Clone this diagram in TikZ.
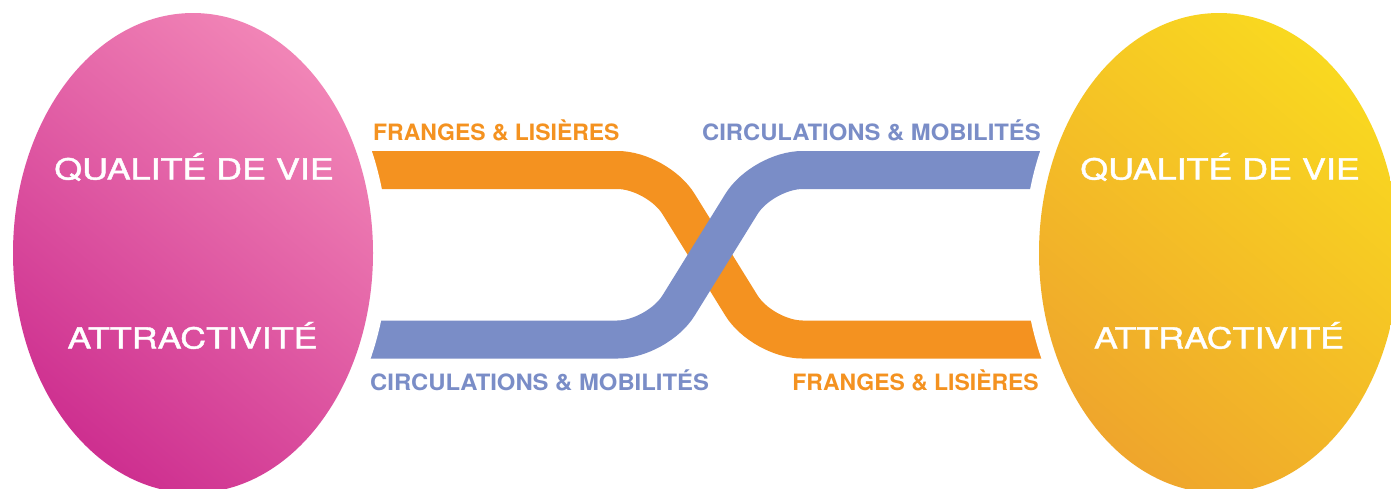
\documentclass[tikz,border=0pt]{standalone}
\usepackage{fontspec}
\setmainfont{TeX Gyre Heros}
\newfontfamily\ovalfont[FakeBold=1.3]{TeX Gyre Heros}
\begin{document}
\begin{tikzpicture}[x=1pt,y=-1pt,
  band/.style={line width=38pt,rounded corners=40pt},
  gapring/.style={draw=white,fill=white,line width=30pt},
  bigtxt/.style={text=white,font=\ovalfont\fontsize{29}{29}\selectfont,xscale=1.235,transform shape,anchor=base,inner sep=0pt},
  lbl/.style={font=\fontsize{22.5}{22.5}\selectfont\bfseries,transform shape,inner sep=0pt},
  franges/.style={lbl,text=orng,xscale=1.02},
  circ/.style={lbl,text=blu,xscale=1.06}]
\definecolor{orng}{RGB}{244,146,32}
\definecolor{blu}{RGB}{122,141,199}
\definecolor{pinkL}{RGB}{241,132,182}
\definecolor{pinkD}{RGB}{206,48,144}
\definecolor{yelL}{RGB}{249,216,32}
\definecolor{yelD}{RGB}{239,166,44}
\useasboundingbox (0,0) rectangle (1391,488);
\fill[white] (0,0) rectangle (1391,488);

% crossing bands
\coordinate (oA) at (340,170);
\coordinate (oB) at (657.5,170);
\coordinate (oC) at (762.5,339.5);
\coordinate (oD) at (1060,339.5);
\coordinate (bA) at (340,339.5);
\coordinate (bB) at (657.5,339.5);
\coordinate (bC) at (762.5,170);
\coordinate (bD) at (1060,170);
\draw[band,orng] (oA) -- (oB) -- (oC) -- (oD);
\draw[band,blu] (bA) -- (bB) -- (bC) -- (bD);

% left oval
\path[gapring] (193,253) ellipse [x radius=180,y radius=240];
\shade[top color=pinkL,bottom color=pinkD,shading angle=-40]
  (193,253) ellipse [x radius=180,y radius=240];
% right oval
\path[gapring] (1219,253) ellipse [x radius=180,y radius=240];
\shade[top color=yelL,bottom color=yelD,shading angle=-40]
  (1219,253) ellipse [x radius=180,y radius=240];

% oval texts
\node[bigtxt] (lq) at (194,179.5) {QUALITÉ DE VIE};
\node[bigtxt] (la) at (192.5,348.5) {ATTRACTIVITÉ};
\node[bigtxt] (rq) at (1220,179.5) {QUALITÉ DE VIE};
\node[bigtxt] (ra) at (1219,348.5) {ATTRACTIVITÉ};

% band labels
\node[franges,anchor=base west] (fl1) at (373,140) {FRANGES \& LISIÈRES};
\node[circ,anchor=base east] (cm1) at (1041,140) {CIRCULATIONS \& MOBILITÉS};
\node[circ,anchor=base west] (cm2) at (370,390) {CIRCULATIONS \& MOBILITÉS};
\node[franges,anchor=base east] (fl2) at (1039,390) {FRANGES \& LISIÈRES};
\end{tikzpicture}
\end{document}
